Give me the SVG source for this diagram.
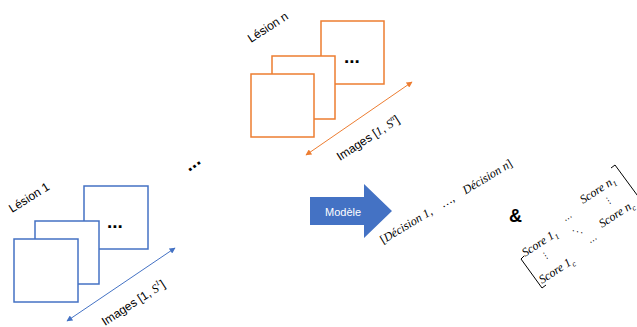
<svg xmlns="http://www.w3.org/2000/svg" width="637" height="327" viewBox="0 0 637 327">
<defs>
<style>
.sqb{fill:#fff;stroke:#4472C4;stroke-width:1.5}
.sqo{fill:#fff;stroke:#ED7D31;stroke-width:1.5}
</style>
<marker id="ab" viewBox="0 0 10 10" refX="9" refY="5" markerWidth="7" markerHeight="6" orient="auto-start-reverse" markerUnits="userSpaceOnUse"><path d="M0,0 L10,5 L0,10 z" fill="#4472C4"/></marker>
<marker id="ao" viewBox="0 0 10 10" refX="9" refY="5" markerWidth="7" markerHeight="6" orient="auto-start-reverse" markerUnits="userSpaceOnUse"><path d="M0,0 L10,5 L0,10 z" fill="#ED7D31"/></marker>
</defs>
<rect width="637" height="327" fill="#fff"/>

<g id="lesion1">
<rect class="sqb" x="84" y="186" width="64" height="63"/>
<text x="107" y="228" font-family="Liberation Sans" font-weight="bold" font-size="19">...</text>
<rect class="sqb" x="35" y="221" width="64" height="63"/>
<rect class="sqb" x="14" y="239" width="64" height="63"/>
<text x="12" y="213" font-family="Liberation Sans" font-size="12" transform="rotate(-32 12 213)">Lésion 1</text>
<text x="105" y="326" font-family="Liberation Sans" font-size="12" transform="rotate(-33 105 326)">Images [1, <tspan font-family="Liberation Serif" font-style="italic">S</tspan><tspan font-family="Liberation Serif" font-style="italic" font-size="8" dy="-5">1</tspan><tspan dy="5">]</tspan></text>
</g>

<g id="lesionN">
<rect class="sqo" x="321" y="21" width="63" height="63"/>
<text x="344" y="63" font-family="Liberation Sans" font-weight="bold" font-size="19">...</text>
<rect class="sqo" x="272" y="56" width="63" height="63"/>
<rect class="sqo" x="251" y="74" width="63" height="63"/>
<text x="251" y="43" font-family="Liberation Sans" font-size="12" transform="rotate(-33 251 43)">Lésion n</text>
<text x="340" y="161" font-family="Liberation Sans" font-size="12" transform="rotate(-33 340 161)">Images [<tspan font-family="Liberation Serif" font-style="italic">1</tspan>, <tspan font-family="Liberation Serif" font-style="italic">S</tspan><tspan font-family="Liberation Serif" font-style="italic" font-size="8" dy="-5">n</tspan><tspan dy="5">]</tspan></text>
</g>

<g id="ellipsis">
<text x="189" y="172" font-family="Liberation Sans" font-weight="bold" font-size="19" transform="rotate(-36 189 172)">...</text>
</g>

<g id="model">
<path d="M310,197 L364,197 L364,184 L392,211 L364,238 L364,225 L310,225 Z" fill="#4472C4"/>
<text x="325" y="216" font-family="Liberation Sans" font-size="11" fill="#fff">Modèle</text>
</g>

<g id="decisions">
<text x="383" y="244" font-family="Liberation Serif" font-style="italic" font-size="12" transform="rotate(-31 383 244)"><tspan font-style="normal">[</tspan>Décision 1,<tspan dx="12">…,</tspan><tspan dx="12">Décision n</tspan><tspan font-style="normal">]</tspan></text>
</g>

<g id="ampersand">
<text x="509" y="222" font-family="Liberation Sans" font-weight="bold" font-size="18">&amp;</text>
</g>

<g id="scores">
<path d="M524,256 L521,259 L542,288 L546,285" fill="none" stroke="#000" stroke-width="1"/>
<path d="M611,168 L615,165 L640,199" fill="none" stroke="#000" stroke-width="1"/>
<text x="525" y="257" font-family="Liberation Serif" font-style="italic" font-size="12" transform="rotate(-33 525 257)">Score 1<tspan font-size="8" dy="3">1</tspan></text>
<text x="583" y="204" font-family="Liberation Serif" font-style="italic" font-size="12" transform="rotate(-33 583 204)">Score n<tspan font-size="8" dy="3">1</tspan></text>
<text x="542" y="284" font-family="Liberation Serif" font-style="italic" font-size="12" transform="rotate(-33 542 284)">Score 1<tspan font-size="8" dy="3">c</tspan></text>
<text x="602" y="228" font-family="Liberation Serif" font-style="italic" font-size="12" transform="rotate(-33 602 228)">Score n<tspan font-size="8" dy="3">c</tspan></text>
<text x="570" y="221" font-family="DejaVu Sans" font-size="9" text-anchor="middle" transform="rotate(-33 570 221)">⋯</text>
<text x="595" y="243" font-family="DejaVu Sans" font-size="9" text-anchor="middle" transform="rotate(-33 595 243)">⋯</text>
<text x="547" y="258" font-family="DejaVu Sans" font-size="9" text-anchor="middle" transform="rotate(-33 547 258)">⋮</text>
<text x="579" y="234" font-family="DejaVu Sans" font-size="9" text-anchor="middle" transform="rotate(-33 579 234)">⋱</text>
<text x="610" y="203" font-family="DejaVu Sans" font-size="9" text-anchor="middle" transform="rotate(-33 610 203)">⋮</text>
</g>

<g id="connectors">
<line x1="67" y1="321" x2="175" y2="248" stroke="#4472C4" stroke-width="1" marker-start="url(#ab)" marker-end="url(#ab)"/>
<line x1="306" y1="155" x2="412" y2="82" stroke="#ED7D31" stroke-width="1" marker-start="url(#ao)" marker-end="url(#ao)"/>
</g>
</svg>
